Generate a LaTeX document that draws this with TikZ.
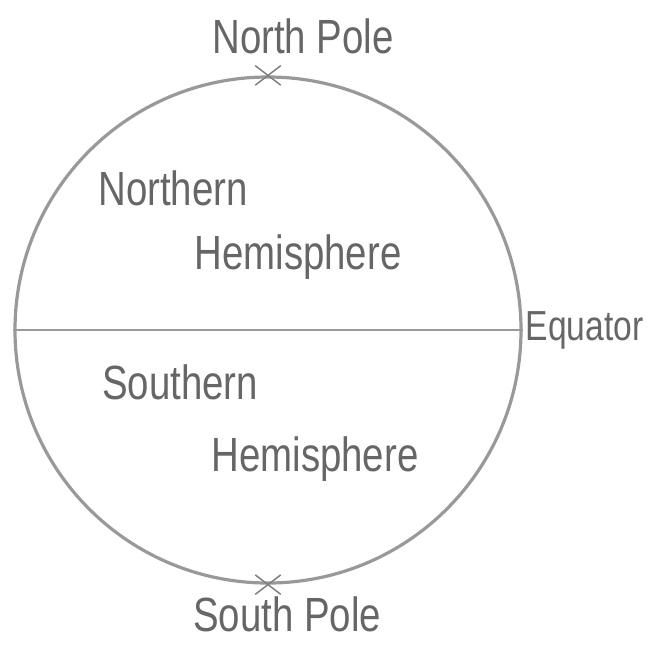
\documentclass[tikz,border=0pt]{standalone}
\usepackage{fontspec}
\setmainfont{Liberation Sans}
\usetikzlibrary{shapes.misc, positioning}

\newcommand{\handtxt}[1]{\scalebox{0.8}[1]{#1}}

\begin{document}
\begin{tikzpicture}[
    x=1pt, y=-1pt,
    globeline/.style={draw=black!40, line width=3.2pt},
    polemark/.style={cross out, draw=black!50, line width=1.5pt, minimum width=24pt, minimum height=18pt, inner sep=0pt},
    handtext/.style={text=black!60, font=\fontsize{48}{52}\selectfont, inner sep=0pt}
]
\useasboundingbox (0,0) rectangle (655,646);

\node[circle, globeline, minimum size=506pt, inner sep=0pt] (globe) at (268,330) {};
\draw[globeline, line width=2.6pt] (globe.west) -- (globe.east);
\node[polemark] (npole) at (globe.north) {};
\node[polemark] (spole) at (globe.south) {};

\node[handtext] (nplabel) at (303,36) {\handtxt{North Pole}};
\node[handtext] (nhemi1) at (173,188) {\handtxt{Northern}};
\node[handtext] (nhemi2) at (298,257) {\handtxt{Hemisphere}};
\node[handtext] (shemi1) at (180,382) {\handtxt{Southern}};
\node[handtext] (shemi2) at (315,459) {\handtxt{Hemisphere}};
\node[handtext] (splabel) at (287,614) {\handtxt{South Pole}};
\node[handtext, anchor=west, font=\fontsize{42}{46}\selectfont] (eqlabel) at ([xshift=3pt]globe.east) {\handtxt{Equator}};
\end{tikzpicture}
\end{document}
